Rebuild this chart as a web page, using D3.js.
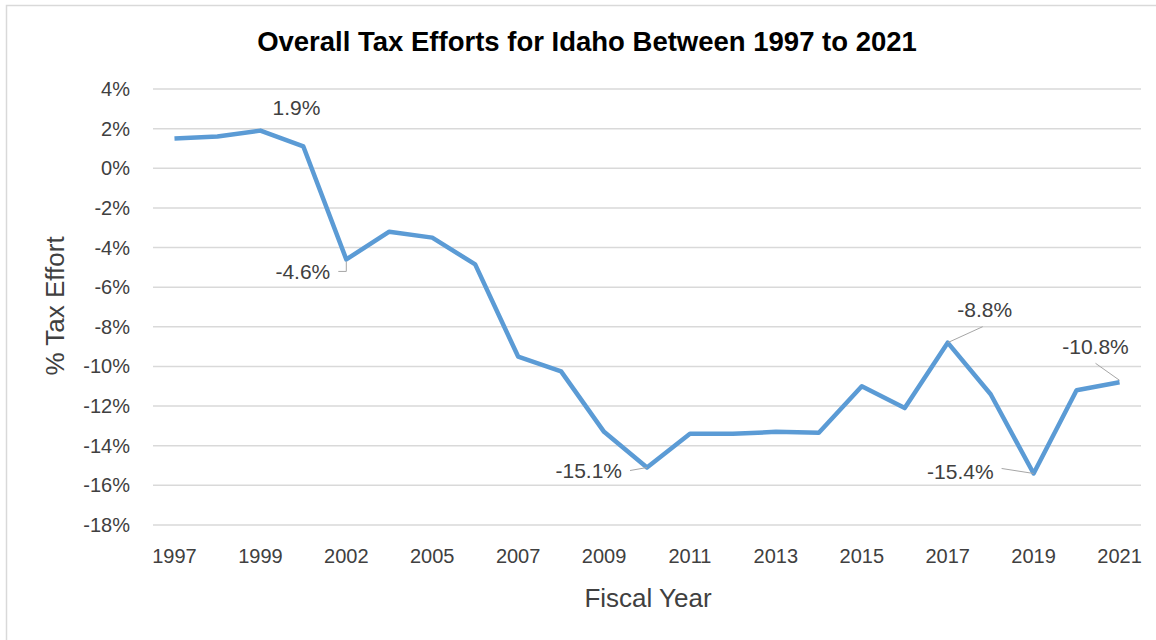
<!DOCTYPE html>
<html>
<head>
<meta charset="utf-8">
<script src="https://cdn.jsdelivr.net/npm/d3@7"></script>
<style>
  body { margin: 0; background: #fff; }
  svg { display: block; font-family: "Liberation Sans", Arial, sans-serif; }
</style>
</head>
<body>
<div id="chart"></div>
<script>
// fiscal years (two categories have hidden labels on the axis)
var years = ['1997', '1998', '1999', '2000', '2002', '2003', '2005', '2006', '2007', '2008',
             '2009', '2010', '2011', '2012', '2013', '2014', '2015', '2016', '2017', '2018',
             '2019', '2020', '2021'];
// overall tax effort, percent
var taxEffort = [1.5, 1.6, 1.9, 1.1, -4.6, -3.2, -3.5, -4.85, -9.5, -10.25,
                 -13.3, -15.1, -13.4, -13.4, -13.3, -13.35, -11.0, -12.1, -8.8, -11.4,
                 -15.4, -11.2, -10.8];
var yTicks = [4, 2, 0, -2, -4, -6, -8, -10, -12, -14, -16, -18];
// years that get a data label
var labelledYears = ['1999', '2002', '2010', '2017', '2019', '2021'];

var width = 1156, height = 640;
var svg = d3.select('#chart').append('svg')
    .attr('width', width)
    .attr('height', height);

// chart border
svg.append('rect')
    .attr('x', 6.5).attr('y', 5.5)
    .attr('width', 1170).attr('height', 660)
    .attr('fill', 'none')
    .attr('stroke', '#d9d9d9')
    .attr('stroke-width', 1.5);

var x = d3.scalePoint()
    .domain(years)
    .range([153, 1141])
    .padding(0.5);

var y = d3.scaleLinear()
    .domain([-18, 4])
    .range([525, 89]);

// gridlines
svg.append('g')
    .selectAll('line')
    .data(yTicks).enter()
    .append('line')
    .attr('x1', 153).attr('x2', 1141)
    .attr('y1', function (d) { return y(d); })
    .attr('y2', function (d) { return y(d); })
    .attr('stroke', '#d9d9d9')
    .attr('stroke-width', 1.5);

// y tick labels
svg.append('g')
    .selectAll('text')
    .data(yTicks).enter()
    .append('text')
    .attr('x', 130)
    .attr('y', function (d) { return y(d); })
    .attr('dy', '0.35em')
    .attr('text-anchor', 'end')
    .attr('font-size', 20)
    .attr('fill', '#404040')
    .text(function (d) { return d + '%'; });

// x tick labels, every other category
svg.append('g')
    .selectAll('text')
    .data(years.filter(function (d, i) { return i % 2 === 0; })).enter()
    .append('text')
    .attr('x', function (d) { return x(d); })
    .attr('y', 563)
    .attr('text-anchor', 'middle')
    .attr('font-size', 20)
    .attr('fill', '#404040')
    .text(function (d) { return d; });

var data = years.map(function (d, i) { return { year: d, value: taxEffort[i] }; });

var line = d3.line()
    .x(function (d) { return x(d.year); })
    .y(function (d) { return y(d.value); });

svg.append('path')
    .datum(data)
    .attr('d', line)
    .attr('fill', 'none')
    .attr('stroke', '#5b9bd5')
    .attr('stroke-width', 4.5)
    .attr('stroke-linejoin', 'round');

// label placement relative to the point: text anchor offset and leader path
var labelLayout = {
    '1999': { dx: 36, dy: -23, anchor: 'middle', leader: null },
    '2002': { dx: -16, dy: 12, anchor: 'end', leader: [[-8, 12], [0, 12], [0, 2]] },
    '2010': { dx: -25, dy: 3, anchor: 'end', leader: [[-17, 3], [0, 0]] },
    '2017': { dx: 37, dy: -33, anchor: 'middle', leader: [[35, -16], [0, 0]] },
    '2019': { dx: -40, dy: -2, anchor: 'end', leader: [[-32, -5], [0, 0]] },
    '2021': { dx: -24, dy: -36, anchor: 'middle', leader: [[-24, -19], [0, -2]] }
};

var labelled = data.filter(function (d) { return labelledYears.indexOf(d.year) >= 0; });

svg.append('g')
    .selectAll('path')
    .data(labelled.filter(function (d) { return labelLayout[d.year].leader; })).enter()
    .append('path')
    .attr('d', function (d) {
        var px = x(d.year), py = y(d.value);
        return d3.line()(labelLayout[d.year].leader.map(function (p) { return [px + p[0], py + p[1]]; }));
    })
    .attr('fill', 'none')
    .attr('stroke', '#a6a6a6')
    .attr('stroke-width', 1);

svg.append('g')
    .selectAll('text')
    .data(labelled).enter()
    .append('text')
    .attr('x', function (d) { return x(d.year) + labelLayout[d.year].dx; })
    .attr('y', function (d) { return y(d.value) + labelLayout[d.year].dy; })
    .attr('dy', '0.35em')
    .attr('text-anchor', function (d) { return labelLayout[d.year].anchor; })
    .attr('font-size', 21)
    .attr('fill', '#404040')
    .text(function (d) { return d.value.toFixed(1) + '%'; });

// titles
svg.append('text')
    .attr('x', 587).attr('y', 51)
    .attr('text-anchor', 'middle')
    .attr('font-size', 27.5)
    .attr('font-weight', 'bold')
    .attr('fill', '#000')
    .text('Overall Tax Efforts for Idaho Between 1997 to 2021');

svg.append('text')
    .attr('x', 648).attr('y', 607)
    .attr('text-anchor', 'middle')
    .attr('font-size', 26)
    .attr('fill', '#404040')
    .text('Fiscal Year');

svg.append('text')
    .attr('transform', 'translate(64,306) rotate(-90)')
    .attr('text-anchor', 'middle')
    .attr('font-size', 26)
    .attr('fill', '#404040')
    .text('% Tax Effort');
</script>
</body>
</html>
